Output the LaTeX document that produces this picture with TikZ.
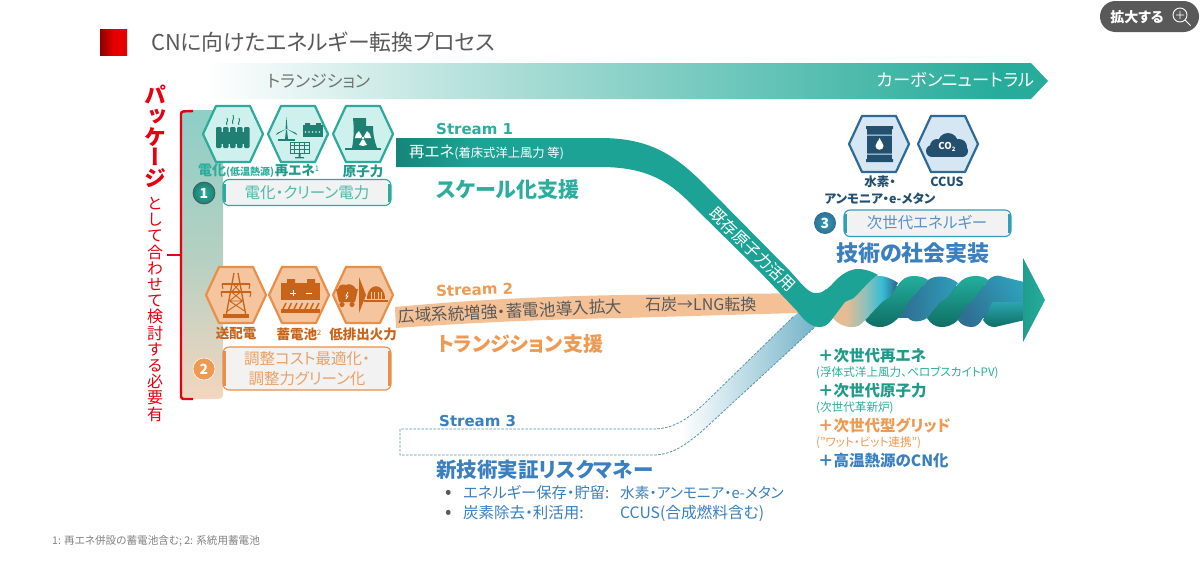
\documentclass[tikz,border=0pt]{standalone}
\usepackage{fontspec}
\setmainfont{Noto Sans CJK JP}[RawFeature=+palt]
\newfontfamily\vfont[RawFeature=+vert]{Noto Sans CJK JP}
\newfontfamily\lat{DejaVu Sans}
\definecolor{cteal}{HTML}{2BAE9E}
\definecolor{cteald}{HTML}{1E7F72}
\definecolor{ctealt}{HTML}{1F9A8B}
\definecolor{chexg}{HTML}{CFF1EE}
\definecolor{chexgs}{HTML}{2DAA9C}
\definecolor{corg}{HTML}{EF9A52}
\definecolor{corgd}{HTML}{C8641A}
\definecolor{chexo}{HTML}{F4C59F}
\definecolor{chexos}{HTML}{E98F47}
\definecolor{cblue}{HTML}{3A7FBF}
\definecolor{chexb}{HTML}{D6E6F3}
\definecolor{chexbs}{HTML}{2F6A96}
\definecolor{cblued}{HTML}{24506F}
\definecolor{cred}{HTML}{E60012}
\definecolor{cbox}{HTML}{F2F2F2}
\definecolor{sa}{HTML}{A8DCD5}
\definecolor{sb}{HTML}{5CC0B3}
\definecolor{sc}{HTML}{27AC9B}
\definecolor{pa}{HTML}{F3D6BF}
\definecolor{pb}{HTML}{B4D0C2}
\definecolor{pc}{HTML}{8ECFC6}
\definecolor{ta}{HTML}{15857A}
\definecolor{tb}{HTML}{1CA395}
\definecolor{ra}{HTML}{E6BC94}
\definecolor{rb}{HTML}{8FC0BB}
\definecolor{rc}{HTML}{35BCD2}
\definecolor{rd}{HTML}{2A5F86}
\definecolor{ua}{HTML}{2F6F93}
\definecolor{ub}{HTML}{2F9FBA}
\definecolor{va}{HTML}{6AAEC4}
\definecolor{da}{HTML}{24AE9D}
\definecolor{db}{HTML}{0F6E65}
\definecolor{ha}{HTML}{8B0000}
\definecolor{hb}{HTML}{E60000}
\pgfdeclarehorizontalshading{barshade}{100bp}{color(0bp)=(white);color(25bp)=(white);color(43.7bp)=(sa);color(60.3bp)=(sb);color(72bp)=(sc);color(100bp)=(sc)}
\pgfdeclareverticalshading{panelshade}{100bp}{color(0bp)=(pa);color(25bp)=(pa);color(50bp)=(pb);color(75bp)=(pc);color(100bp)=(pc)}
\pgfdeclarehorizontalshading{s1shade}{100bp}{color(0bp)=(ta);color(25bp)=(ta);color(33bp)=(tb);color(100bp)=(tb)}
\pgfdeclarehorizontalshading{ribshade}{100bp}{color(0bp)=(ra);color(25bp)=(ra);color(35bp)=(ra);color(50bp)=(rb);color(63bp)=(rc);color(75bp)=(rd);color(100bp)=(rd)}
\pgfdeclarehorizontalshading{s3shade}{100bp}{color(0bp)=(white);color(25bp)=(white);color(33bp)=(white);color(75bp)=(va);color(100bp)=(va)}
\pgfdeclarehorizontalshading{headshade}{100bp}{color(0bp)=(ha);color(25bp)=(ha);color(50bp)=(hb);color(100bp)=(hb)}
\tikzset{
  lbl/.style={inner sep=0pt,anchor=west},
  ctr/.style={inner sep=0pt,anchor=center,align=center},
  hexg/.style={fill=chexg,draw=chexgs},
  hexo/.style={fill=chexo,draw=chexos},
  hexb/.style={fill=chexb,draw=chexbs},
  gicon/.style={fill=cteald,draw=none},
  oicon/.style={fill=corgd,draw=none},
  bicon/.style={fill=cblued,draw=none},
  numc/.style={circle,minimum size=22pt,inner sep=0pt,text=white,font=\bfseries\fontsize{14}{14}\selectfont},
}
\newcommand\hexa[3]{\draw[#3,line width=2.2pt,line join=round] (#1-30,#2) -- (#1-17,#2-28) -- (#1+17,#2-28) -- (#1+30,#2) -- (#1+17,#2+28) -- (#1-17,#2+28) -- cycle;}
\newcommand\capbox[6]{% x1 y1 x2 y2 colour name
  \draw[#5,line width=1.1pt,fill=cbox,rounded corners=6pt] (#1,#2) rectangle (#3,#4);
  \fill[#5] (#1,#2+4) -- (#1+3,#2+4) -- (#1+3,#4-4) -- (#1,#4-4) -- cycle;
  \fill[#5] (#3,#2+4) -- (#3-3,#2+4) -- (#3-3,#4-4) -- (#3,#4-4) -- cycle;
  \coordinate (#6) at ({(#1+#3)/2},{(#2+#4)/2});}
\newcommand\supnum[1]{\raisebox{4pt}{\fontsize{7.5}{8}\selectfont\mdseries #1}}
\begin{document}
\begin{tikzpicture}[x=1pt,y=-1pt]
\useasboundingbox (0,0) rectangle (1200,565);
\fill[white] (0,0) rectangle (1200,565);

% zoom button
\fill[fill=black!65,rounded corners=15.5pt] (1100,1) rectangle (1199,32);
\node[ctr,text=white,font=\bfseries\fontsize{14}{14}\selectfont] (zoomt) at (1137,17) {拡大する};
\draw[white,line width=.9pt] (1180,15) circle (7);
\draw[white,line width=.9pt] (1176,15) -- (1184,15) (1180,11) -- (1180,19) (1185,20) -- (1190.5,25.5);

% title
\shade[shading=headshade] (100,29) rectangle (127,55);
\node[lbl,text=black!65,font=\fontsize{21.8}{23}\selectfont] (title) at (151,42) {CNに向けたエネルギー転換プロセス};

% top bar
\shade[shading=barshade] (205,63) -- (1031,63) -- (1048,81) -- (1031,99) -- (205,99) -- cycle;
\node[lbl,text=black!55,font=\fontsize{17}{18}\selectfont] (tr) at (267,81) {トランジション};
\node[lbl,text=white,font=\fontsize{17.3}{19}\selectfont] (cn) at (877,80) {カーボンニュートラル};

% side panel and brace
\shade[shading=panelshade,rounded corners=4pt] (180,110) -- (223,110) -- (223,399) -- (180,399) -- cycle;
\draw[cred,line width=2.4pt,rounded corners=2.5pt] (193,111) -- (181,111.5) -- (181,399) -- (193,399);
\draw[cred,line width=2.4pt] (167,255) -- (181,255);
\node[ctr,anchor=north,text=cred,font=\vfont\bfseries\fontsize{22}{20.7}\selectfont] (pkg) at (155,85) {パ\\ッ\\ケ\\ー\\ジ};
\node[ctr,anchor=north,text=cred,font=\vfont\fontsize{16}{16.2}\selectfont] (pkg2) at (155,197) {と\\し\\て\\合\\わ\\せ\\て\\検\\討\\す\\る\\必\\要\\有};

% green hexagons
\hexa{233}{134}{hexg}
\hexa{298}{134}{hexg}
\hexa{363}{134}{hexg}
\begin{scope}[shift={(233,134)}]
  \foreach \i in {0,...,4} {\fill[gicon,rounded corners=1.2pt] (-17+7*\i,-7) rectangle (-11.5+7*\i,14);}
  \fill[gicon] (-16,-2) rectangle (16,10);
  \draw[cteald,line width=.9pt] (-6,-9) .. controls (-8,-12) and (-4,-12) .. (-6,-16)
    (0,-10) .. controls (-2,-14) and (2,-14) .. (0,-19) (6,-9) .. controls (4,-12) and (8,-12) .. (6,-16);
\end{scope}
\begin{scope}[shift={(298,134)}]
  \fill[gicon] (-11,-4) -- (-10,5) -- (-13,5) -- (-12,-4) -- cycle;
  \fill[gicon] (-11.5,-17) -- (-10.5,-5) -- (-12.5,-5) -- cycle;
  \fill[gicon] (-12,-5) -- (-22,1) -- (-21,-1) -- cycle;
  \fill[gicon] (-11,-5) -- (-1,1) -- (-2,-1) -- cycle;
  \fill[gicon] (-20,5) -- (-3,5) -- (-3,6.5) -- (-20,6.5) -- cycle;
  \fill[gicon] (5,-9) rectangle (25,3);
  \fill[gicon] (7,-11) rectangle (12,-9) (18,-11) rectangle (23,-9);
  \foreach \i in {0,...,4} {\fill[chexg] (7.5+3.5*\i,-2) circle (.8);}
  \draw[cteald,line width=.8pt] (-8,8) rectangle (11,19);
  \foreach \i in {1,2,3} {\draw[cteald,line width=.6pt] (-8+4.75*\i,8) -- (-8+4.75*\i,19);}
  \draw[cteald,line width=.6pt] (-8,11.7) -- (11,11.7) (-8,15.4) -- (11,15.4);
  \fill[gicon] (0.5,19) rectangle (2.5,23) (-3,23) rectangle (6,24.3);
\end{scope}
\begin{scope}[shift={(363,134)}]
  \fill[gicon] (-11,14) .. controls (-9,4) and (-9,-6) .. (-10,-16) -- (3,-16) -- (3,-8) -- (10,-8) .. controls (10,2) and (12,8) .. (14,14) -- cycle;
  \fill[gicon] (-18,14) rectangle (18,16);
  \begin{scope}[shift={(0,4)}]
    \foreach \a in {90,210,330} {\fill[white] (\a-30:2) -- (\a-30:8) arc[start angle=\a-30,end angle=\a+30,radius=8] -- (\a+30:2) -- cycle;}
    \fill[white] (0,0) circle (1.4);
  \end{scope}
\end{scope}
\node[lbl,text=cteal,font=\bfseries\fontsize{14}{14}\selectfont] (dk) at (198,171) {電化{\fontsize{10}{10}\selectfont (低温熱源)}};
\node[ctr,text=ctealt,font=\bfseries\fontsize{13.5}{14}\selectfont] (re) at (297,171) {再エネ\supnum{1}};
\node[ctr,text=ctealt,font=\bfseries\fontsize{13.5}{14}\selectfont] (ge) at (363,171) {原子力};

% box 1
\node[numc,draw=black!70,line width=.6pt,shade,inner color=cteal,outer color=cteald] (n1) at (204,193) {1};
\capbox{223}{179.5}{391}{205.5}{chexgs}{b1}
\node[ctr,text=cteal!85,font=\fontsize{15.5}{16}\selectfont] (b1t) at (b1) {電化・クリーン電力};

% orange hexagons
\hexa{236}{295}{hexo}
\hexa{299}{295}{hexo}
\hexa{363}{295}{hexo}
\begin{scope}[shift={(236,295)}]
  \draw[corgd,line width=1.3pt] (-2,-22) -- (-10,21) (2,-22) -- (10,21);
  \draw[corgd,line width=1.3pt] (-14,-11) -- (14,-11) (-15,-3) -- (15,-3);
  \draw[corgd,line width=1pt] (-14,-11) -- (-13,-6) (14,-11) -- (13,-6) (-15,-3) -- (-14,2) (15,-3) -- (14,2);
  \draw[corgd,line width=.9pt] (-3,-11) -- (4.5,-3) (3,-11) -- (-4.5,-3) (-4.5,-3) -- (6.5,6) (4.5,-3) -- (-6.5,6) (-6.5,6) -- (8.5,16) (6.5,6) -- (-8.5,16) (-6.5,6) -- (6.5,6);
  \fill[oicon] (-13,19) rectangle (13,23);
\end{scope}
\begin{scope}[shift={(299,295)}]
  \fill[oicon] (-18,-12) rectangle (21,5);
  \fill[oicon] (-12,-16) rectangle (-4,-12) (8,-16) rectangle (16,-12);
  \draw[white,line width=1pt] (-9,-2) -- (-3,-2) (-6,-5) -- (-6,1) (7,-2) -- (13,-2);
  \foreach \i in {0,...,6} {\draw[corgd,line width=1.4pt] (-13+5.5*\i,8) -- (-16+5.5*\i,14);}
  \fill[oicon] (-18,14) rectangle (21,18);
\end{scope}
\begin{scope}[shift={(363,295)}]
  \fill[oicon] (-27,-6) -- (-5,-6) -- (-8,7) -- (-24,7) -- cycle;
  \fill[oicon] (-25,-6) .. controls (-24,-11) and (-20,-11) .. (-17,-10) .. controls (-14,-12) and (-9,-10) .. (-7,-6) -- cycle;
  \fill[oicon] (-21,9.5) circle (2.6) (-11,9.5) circle (2.6);
  \draw[white,line width=.8pt] (-15,-3) -- (-17,1) -- (-15,1) -- (-17,4);
  \fill[oicon] (-4,-18) -- (3,0) -- (-4,18) -- cycle;
  \fill[oicon] (4,4) .. controls (4,-13) and (22,-13) .. (22,4) -- cycle;
  \foreach \i in {0,...,3} {\fill[chexo] (7.5+3.5*\i,-3) rectangle (8.7+3.5*\i,4);}
  \fill[oicon] (1,5) rectangle (25,6.5);
\end{scope}
\node[ctr,text=corgd,font=\bfseries\fontsize{13.5}{14}\selectfont] (sh) at (236,333.5) {送配電};
\node[ctr,text=corgd,font=\bfseries\fontsize{13.5}{14}\selectfont] (ch) at (299,334) {蓄電池\supnum{2}};
\node[ctr,text=corgd,font=\bfseries\fontsize{13.5}{14}\selectfont] (lo) at (363,334) {低排出火力};

% box 2
\node[numc,fill=corg,draw=white,line width=.5pt] (n2) at (204,369) {2};
\capbox{223}{347}{391}{390}{chexos}{b2}
\node[ctr,text=chexos!85,font=\fontsize{15.5}{20}\selectfont] (b2t) at (b2) {調整コスト最適化・\\調整力グリーン化};

% stream 3
\shade[shading=s3shade] (653,429) .. controls (675,429) and (690,417) .. (705,403) -- (793,317) -- (826,289) -- (826,316) -- (815,327) -- (700,433) .. controls (685,445) and (672,455) .. (653,455) -- cycle;
\draw[va!85!black,line width=.8pt,dash pattern=on 2.5pt off 1.5pt] (793,317) -- (705,403) .. controls (690,417) and (675,429) .. (653,429) -- (400,429) -- (400,455) -- (653,455) .. controls (672,455) and (685,445) .. (700,433) -- (815,327);

% stream 2
\fill[chexo!90!corg] (395,307) .. controls (480,299) and (560,296) .. (623,295) -- (820,293) -- (820,313) -- (797,313) -- (623,318) .. controls (560,319) and (480,322) .. (396,328) -- cycle;
\node[lbl,rotate=2.5,text=black!65,font=\fontsize{16.6}{17}\selectfont] (s2t) at (398,316) {広域系統増強・蓄電池導入拡大};
\node[lbl,text=black!65,font=\fontsize{16}{17}\selectfont] (s2u) at (645,304) {石炭→LNG転換};

% twist: base, then ribbons
\fill[ua] (870,286) rectangle (1000,318);
\shade[top color=da,bottom color=db] (865,320) -- (882,302) -- (890,297) -- (898,285) .. controls (902,279) and (907,276) .. (913,276) .. controls (919,276) and (924,277) .. (928,280) -- (917,293) -- (910,300) -- (903,312) .. controls (896,322) and (888,327) .. (880,327) .. controls (874,327) and (869,325) .. (865,320) -- cycle;
\shade[top color=da,bottom color=db] (927,318) -- (940,302) -- (947,298) -- (958,284) .. controls (962,279) and (968,276) .. (975,276) .. controls (980,276) and (985,277) .. (988,280) -- (973,301) -- (965,308) -- (958,320) .. controls (952,326) and (946,327) .. (941,327) .. controls (935,327) and (930,323) .. (927,318) -- cycle;
\shade[left color=ua,right color=ub] (903,312) -- (910,300) -- (917,293) -- (928,280) .. controls (935,275) and (948,275) .. (958,283) -- (947,298) -- (940,302) -- (927,318) .. controls (923,321) and (917,322) .. (913,321) .. controls (909,320) and (906,316) .. (903,312) -- cycle;
\shade[left color=ub,right color=ua,shading angle=-60] (958,320) -- (965,308) -- (973,301) -- (988,280) .. controls (992,276) and (997,275) .. (1000,276) -- (1024,282) -- (1025,302) -- (992,302) -- (983,318) .. controls (980,324) and (976,327) .. (972,327) .. controls (966,327) and (961,325) .. (958,320) -- cycle;
\shade[shading=ribshade] (833,318) -- (845,302) .. controls (849,300) and (852,300) .. (855,297) -- (868,281) .. controls (874,274) and (885,274) .. (898,283) -- (890,297) -- (882,302) -- (865,320) .. controls (860,326) and (857,327) .. (852,327) .. controls (844,327) and (838,324) .. (833,318) -- cycle;
% stream 1 + first lobe
\shade[shading=s1shade] (396,138) -- (600,138) .. controls (650,138) and (675,155) .. (705,185) -- (790,271) .. controls (800,282) and (808,293) .. (815,293) .. controls (822,294) and (828,289) .. (835,281) .. controls (842,274) and (850,269) .. (858,269) .. controls (866,269) and (873,272) .. (878,275) .. controls (874,277) and (871,280) .. (868,283) -- (855,297) .. controls (852,300) and (848,300) .. (845,302) -- (833,318) .. controls (828,325) and (824,327) .. (820,327) .. controls (812,327) and (805,322) .. (797,311) -- (760,272) -- (690,203) .. controls (665,177) and (640,167) .. (600,167) -- (396,167) -- cycle;
\shade[top color=ub!60!da,bottom color=db] (983,320) -- (992,302) -- (1025,302) -- (1025,320) -- (995,327) .. controls (990,327) and (986,325) .. (983,320) -- cycle;
\shade[left color=da!90!black,right color=da] (1023,258) -- (1045,300) -- (1023,342) -- cycle;

\node[lbl,text=white,font=\fontsize{15.5}{16}\selectfont] (s1t) at (409,152) {再エネ{\fontsize{12.3}{12}\selectfont (着床式洋上風力 等)}};
\node[ctr,rotate=-44,text=white,font=\fontsize{16}{16}\selectfont] (kn) at (752.5,249.5) {既存原子力活用};

% stream labels
\node[lbl,text=cteal,font=\lat\bfseries\fontsize{15}{16}\selectfont] (l1) at (436,129) {Stream 1};
\node[lbl,text=corg,rotate=2,font=\lat\bfseries\fontsize{15}{16}\selectfont] (l2) at (436,291) {Stream 2};
\node[lbl,text=cblue,font=\lat\bfseries\fontsize{15}{16}\selectfont] (l3) at (439,421) {Stream 3};
\node[lbl,text=cteal,font=\bfseries\fontsize{21}{22}\selectfont] (h1) at (436,190) {スケール化支援};
\node[lbl,text=corg,font=\bfseries\fontsize{20}{22}\selectfont] (h2) at (437,344) {トランジション支援};
\node[lbl,text=cblue,font=\bfseries\fontsize{20.5}{22}\selectfont] (h3) at (436,470) {新技術実証リスクマネー};
\node[ctr,text=black!65,font=\fontsize{19}{19}\selectfont] (b3a) at (449,494) {•};
\node[ctr,text=black!65,font=\fontsize{19}{19}\selectfont] (b3b) at (449,514) {•};
\node[lbl,text=cblue,font=\fontsize{15.3}{16}\selectfont] (i1) at (463,493) {エネルギー保存・貯留:};
\node[lbl,text=cblue,font=\fontsize{14.7}{15}\selectfont] (i2) at (620,493) {水素・アンモニア・e-メタン};
\node[lbl,text=cblue,font=\fontsize{15.5}{16}\selectfont] (i3) at (463,513) {炭素除去・利活用:};
\node[lbl,text=cblue,font=\fontsize{15.7}{16}\selectfont] (i4) at (620,513) {CCUS(合成燃料含む)};

% blue hexagons
\hexa{879}{144}{hexb}
\hexa{948}{144}{hexb}
\begin{scope}[shift={(879,144)}]
  \fill[bicon] (-12,-17) rectangle (13,18);
  \fill[bicon] (-13,-18) rectangle (14,-15) (-13,15) rectangle (14,18);
  \fill[chexb] (-12,-9.5) rectangle (13,-8.3) (-12,9.5) rectangle (13,10.7);
  \fill[white] (0.5,-6) .. controls (2,-2) and (4.5,-1) .. (4.5,2) .. controls (4.5,7) and (-3.5,7) .. (-3.5,2) .. controls (-3.5,-1) and (-1,-2) .. (0.5,-6) -- cycle;
\end{scope}
\begin{scope}[shift={(948,144)}]
  \fill[bicon] (-16,7) circle (6) (-11,2) circle (7) (0,-1) circle (10) (11,3) circle (8) (14,7) circle (6);
  \fill[bicon] (-16,5) rectangle (14,13);
  \node[ctr,text=white,font=\bfseries\fontsize{9.5}{10}\selectfont] (co) at (-1,3) {CO\raisebox{-1.5pt}{\fontsize{6}{6}\selectfont 2}};
\end{scope}
\node[ctr,text=cblued,font=\bfseries\fontsize{12.5}{17}\selectfont] (h2t) at (880,190.5) {水素・\\アンモニア・e-メタン};
\node[ctr,text=cblued,font=\bfseries\fontsize{12.5}{14}\selectfont] (cc) at (947,182) {CCUS};

\node[numc,shade,inner color=ub,outer color=ua] (n3) at (825,223) {3};
\capbox{844}{210}{1011}{236.5}{ub}{b3}
\node[ctr,text=cblue!85,font=\fontsize{15.5}{16}\selectfont] (b3t) at (927,223) {次世代エネルギー};
\node[ctr,text=cblue,font=\bfseries\fontsize{22}{22}\selectfont] (gj) at (913,253) {技術の社会実装};

% right list
\node[lbl,text=ctealt,font=\bfseries\fontsize{15.5}{16}\selectfont] (r1) at (818,356) {＋次世代再エネ};
\node[lbl,text=cteal,font=\fontsize{11.6}{12}\selectfont] (r1a) at (816,373) {(浮体式洋上風力、ペロブスカイトPV)};
\node[lbl,text=ctealt,font=\bfseries\fontsize{15.5}{16}\selectfont] (r2) at (818,391) {＋次世代原子力};
\node[lbl,text=cteal,font=\fontsize{11.6}{12}\selectfont] (r2a) at (816,408) {(次世代革新炉)};
\node[lbl,text=corg,font=\bfseries\fontsize{15.5}{16}\selectfont] (r3) at (818,425) {＋次世代型グリッド};
\node[lbl,text=corg,font=\fontsize{11.6}{12}\selectfont] (r3a) at (816,443) {("ワット・ビット連携")};
\node[lbl,text=cblue,font=\bfseries\fontsize{15.5}{16}\selectfont] (r4) at (818,461) {＋高温熱源のCN化};

% footnote
\node[lbl,text=black!50,font=\fontsize{10.6}{11}\selectfont] (fn) at (52,541) {1: 再エネ併設の蓄電池含む; 2: 系統用蓄電池};
\end{tikzpicture}
\end{document}
